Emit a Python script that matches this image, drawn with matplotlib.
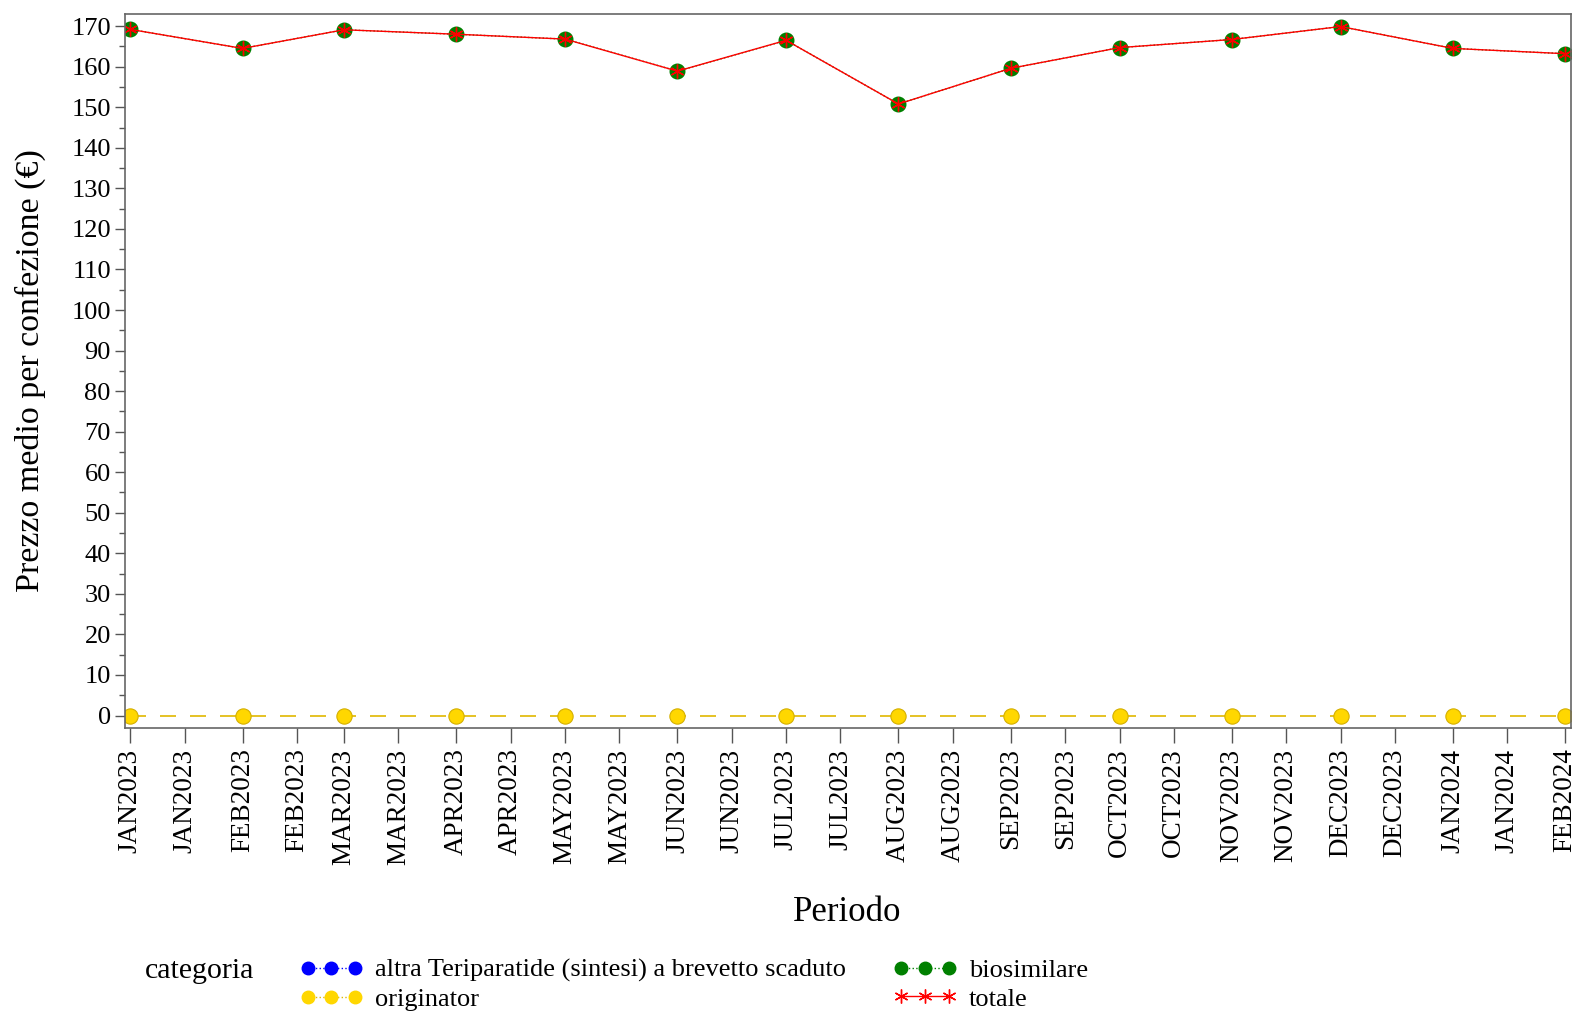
import numpy as np
import matplotlib
matplotlib.use('Agg')
import matplotlib.pyplot as plt
import matplotlib.dates as mdates
from matplotlib.ticker import MultipleLocator, FuncFormatter
from matplotlib.lines import Line2D

plt.rcParams['font.family'] = ['Liberation Serif', 'DejaVu Serif']

# Data: monthly average price per package
periodi = np.arange('2023-01', '2024-03', dtype='datetime64[M]').astype('datetime64[D]')
totale = [169.2, 164.5, 169.1, 168.0, 166.8, 158.9, 166.5, 150.8, 159.6, 164.7, 166.7, 169.9, 164.5, 163.2]
biosimilare = [169.2, 164.5, 169.1, 168.0, 166.8, 158.9, 166.5, 150.8, 159.6, 164.7, 166.7, 169.9, 164.5, 163.2]
originator = [0, 0, 0, 0, 0, 0, 0, 0, 0, 0, 0, 0, 0, 0]
# no values for this category in the period (only in the legend)
altra_teriparatide = [np.nan] * 14

x = mdates.date2num(periodi)

fig = plt.figure(figsize=(15.77, 10.11), dpi=100)
ax = fig.add_axes([0.0791, 0.2802, 0.996 - 0.0791, 0.9862 - 0.2802])

ax.plot(x, altra_teriparatide, color='blue', linestyle=':', linewidth=1,
        marker='o', markersize=10, markeredgecolor='blue')
ax.plot(x, originator, color='#E0B800', linestyle=(0, (9.6, 8.4)), linewidth=1.2,
        marker='o', markersize=11, markerfacecolor='#FFD700', markeredgecolor='#D4AF00', markeredgewidth=0.8)
ax.plot(x, biosimilare, color='green', linestyle=':', linewidth=1,
        marker='o', markersize=10.5, markerfacecolor='green', markeredgecolor='green')
ax.plot(x, totale, color='red', linestyle='-', linewidth=1,
        marker=(6, 2, 0), markersize=10, markeredgecolor='red', markeredgewidth=1)

# axes limits and ticks
ax.set_xlim(x[0] - 1.5, x[-1] + 1.5)
ax.set_ylim(-3, 173)
ax.yaxis.set_major_locator(MultipleLocator(10))
ax.yaxis.set_minor_locator(MultipleLocator(5))
ax.xaxis.set_major_locator(mdates.DayLocator(bymonthday=[1, 16]))
ax.xaxis.set_major_formatter(FuncFormatter(lambda v, p: mdates.num2date(v).strftime('%b%Y').upper()))

ax.tick_params(axis='x', which='major', direction='out', length=11, width=1, color='#555555',
               labelsize=19.5, labelrotation=90, pad=4)
ax.tick_params(axis='y', which='major', direction='out', length=7, width=1, color='#555555',
               labelsize=19, pad=3)
ax.tick_params(axis='y', which='minor', direction='out', length=4, width=1, color='#555555')

for spine in ax.spines.values():
    spine.set_color('#666666')
    spine.set_linewidth(1.2)

ax.set_xlabel('Periodo', fontsize=25)
ax.xaxis.set_label_coords(0.5, -0.2358)
ax.set_ylabel('Prezzo medio per confezione (€)', fontsize=24.5)
ax.yaxis.set_label_coords(-0.0545, 0.5)

# legend
handles = [
    Line2D([], [], color='blue', linestyle=':', linewidth=1, marker='o', markersize=9),
    Line2D([], [], color='#E0B800', linestyle=':', linewidth=1, marker='o', markersize=9,
           markerfacecolor='#FFD700', markeredgecolor='#FFD700'),
    Line2D([], [], color='green', linestyle=':', linewidth=1, marker='o', markersize=9),
    Line2D([], [], color='red', linestyle='-', linewidth=1, marker=(6, 2, 0), markersize=10),
]
labels = ['altra Teriparatide (sintesi) a brevetto scaduto', 'originator', 'biosimilare', 'totale']
fig.legend(handles, labels, loc='upper left', bbox_to_anchor=(0.19, 1 - 958.5 / 1011), ncol=2,
           frameon=False, fontsize=19, numpoints=3, handlelength=2.4, handletextpad=0.45,
           columnspacing=1.8, labelspacing=0.2, borderpad=0, borderaxespad=0)
fig.text(145 / 1577, 1 - 970.5 / 1011, 'categoria', fontsize=21.5, va='center', ha='left')

fig.savefig('out.png', dpi=100)
